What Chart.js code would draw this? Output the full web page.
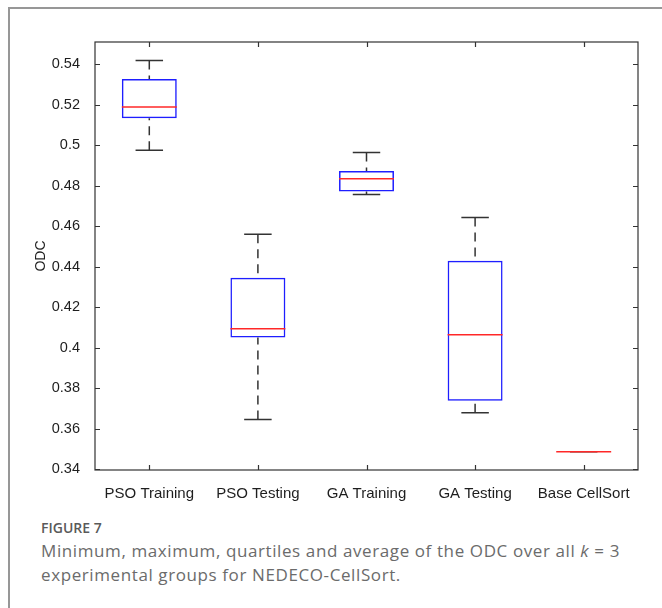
<!DOCTYPE html>
<html lang="en">
<head>
  <meta charset="UTF-8" />
  <title>Figure 7 – ODC box plot</title>
  <script src="https://cdn.jsdelivr.net/npm/chart.js"></script>
  <style>
    html, body { margin: 0; padding: 0; background: #fff; }
    body { width: 662px; height: 608px; position: relative; overflow: hidden; }
    .card {
      position: absolute; left: 8px; top: 7px; width: 700px; height: 650px;
      border-top: 2px solid #979797; border-left: 2px solid #979797;
    }
    .chart-wrap { position: absolute; left: 0; top: 0; width: 662px; height: 505px; }
    .fig-label {
      position: absolute; left: 41px; top: 519px;
      font: 600 14px/18px "Open Sans", sans-serif; color: #5a5a5a;
    }
    .caption {
      position: absolute; left: 41px; top: 539px; width: 615px;
      font: 400 17px/24px "Open Sans", sans-serif; color: #6b6b6b;
      letter-spacing: 0.6px;
    }
  </style>
</head>
<body>
  <div class="card"></div>
  <div class="chart-wrap"><canvas id="odcChart" width="662" height="505"></canvas></div>
  <div class="fig-label">FIGURE 7</div>
  <div class="caption">Minimum, maximum, quartiles and average of the ODC over all <i>k</i> = 3 experimental groups for NEDECO-CellSort.</div>

  <script>
    // data
    const categories = ['PSO Training', 'PSO Testing', 'GA Training', 'GA Testing', 'Base CellSort'];
    const minVals    = [0.4975, 0.3645, 0.4757, 0.3678, 0.3485];
    const q1Vals     = [0.5133, 0.4050, 0.4771, 0.3737, 0.3485];
    const medianVals = [0.5189, 0.4093, 0.4834, 0.4063, 0.3485];
    const q3Vals     = [0.5327, 0.4345, 0.4872, 0.4429, 0.3485];
    const maxVals    = [0.5418, 0.4560, 0.4964, 0.4643, 0.3485];
    const yTicks      = [0.34, 0.36, 0.38, 0.40, 0.42, 0.44, 0.46, 0.48, 0.50, 0.52, 0.54];
    const yTickLabels = ['0.34', '0.36', '0.38', '0.4', '0.42', '0.44', '0.46', '0.48', '0.5', '0.52', '0.54'];

    const BLUE = 'rgb(30,30,255)';
    const RED = 'rgb(255,40,40)';
    const INK = '#333';
    const AXIS_FONT = "'Liberation Sans', Arial, Helvetica, sans-serif";

    // whiskers, caps and medians
    const boxPlugin = {
      id: 'boxWhiskers',
      afterDatasetsDraw(chart) {
        const { ctx, scales: { x, y } } = chart;
        const bars = chart.getDatasetMeta(0).data;
        ctx.save();
        categories.forEach((c, i) => {
          const cx = x.getPixelForValue(i);
          const half = bars[i].width / 2;
          const capHalf = half / 2;
          const yMin = y.getPixelForValue(minVals[i]);
          const yQ1 = y.getPixelForValue(q1Vals[i]);
          const yMed = y.getPixelForValue(medianVals[i]);
          const yQ3 = y.getPixelForValue(q3Vals[i]);
          const yMax = y.getPixelForValue(maxVals[i]);

          ctx.strokeStyle = INK;
          ctx.lineWidth = 1.5;
          ctx.setLineDash([9, 6]);
          ctx.beginPath();
          ctx.moveTo(cx, yMax); ctx.lineTo(cx, yQ3);
          ctx.moveTo(cx, yMin); ctx.lineTo(cx, yQ1);
          ctx.stroke();

          ctx.setLineDash([]);
          ctx.beginPath();
          ctx.moveTo(cx - capHalf, yMax); ctx.lineTo(cx + capHalf, yMax);
          ctx.moveTo(cx - capHalf, yMin); ctx.lineTo(cx + capHalf, yMin);
          ctx.stroke();

          ctx.strokeStyle = RED;
          ctx.beginPath();
          ctx.moveTo(cx - half, yMed); ctx.lineTo(cx + half, yMed);
          ctx.stroke();
        });
        ctx.restore();
      }
    };

    // matlab style frame with inward ticks
    const framePlugin = {
      id: 'frame',
      afterDraw(chart) {
        const { ctx, chartArea: a, scales: { x, y } } = chart;
        const t = 5;
        ctx.save();
        ctx.strokeStyle = INK;
        ctx.lineWidth = 1.2;
        ctx.strokeRect(a.left, a.top, a.right - a.left, a.bottom - a.top);
        ctx.beginPath();
        yTicks.forEach(v => {
          const py = Math.round(y.getPixelForValue(v)) + 0.5;
          ctx.moveTo(a.left, py); ctx.lineTo(a.left + t, py);
          ctx.moveTo(a.right, py); ctx.lineTo(a.right - t, py);
        });
        categories.forEach((c, i) => {
          const px = Math.round(x.getPixelForValue(i)) + 0.5;
          ctx.moveTo(px, a.bottom); ctx.lineTo(px, a.bottom - t);
          ctx.moveTo(px, a.top); ctx.lineTo(px, a.top + t);
        });
        ctx.stroke();
        ctx.restore();
      }
    };

    new Chart(document.getElementById('odcChart'), {
      type: 'bar',
      data: {
        labels: categories,
        datasets: [{
          label: 'ODC',
          data: categories.map((c, i) => [q1Vals[i], q3Vals[i]]),
          backgroundColor: 'rgba(0,0,0,0)',
          borderColor: BLUE,
          borderWidth: 1.5,
          borderSkipped: false,
          barPercentage: 0.506,
          categoryPercentage: 1
        }]
      },
      options: {
        responsive: false,
        animation: false,
        layout: { padding: { left: 0, top: 42, right: 24, bottom: 0 } },
        plugins: {
          legend: { display: false },
          tooltip: { enabled: false }
        },
        scales: {
          x: {
            grid: { display: false },
            border: { display: false },
            ticks: {
              color: '#1e1e1e',
              padding: 7,
              maxRotation: 0,
              font: { family: AXIS_FONT, size: 15 }
            },
            afterFit(scale) { scale.height = 35; }
          },
          y: {
            min: 0.3395,
            max: 0.551,
            grid: { display: false },
            border: { display: false },
            afterBuildTicks(scale) { scale.ticks = yTicks.map(v => ({ value: v })); },
            ticks: {
              color: '#1e1e1e',
              padding: 7,
              font: { family: AXIS_FONT, size: 14.5 },
              callback: (v, i) => yTickLabels[i]
            },
            title: {
              display: true,
              text: 'ODC',
              color: '#1e1e1e',
              padding: { top: 33, bottom: 0 },
              font: { family: AXIS_FONT, size: 14 }
            },
            afterFit(scale) { scale.width = 95; }
          }
        }
      },
      plugins: [boxPlugin, framePlugin]
    });
  </script>
</body>
</html>
